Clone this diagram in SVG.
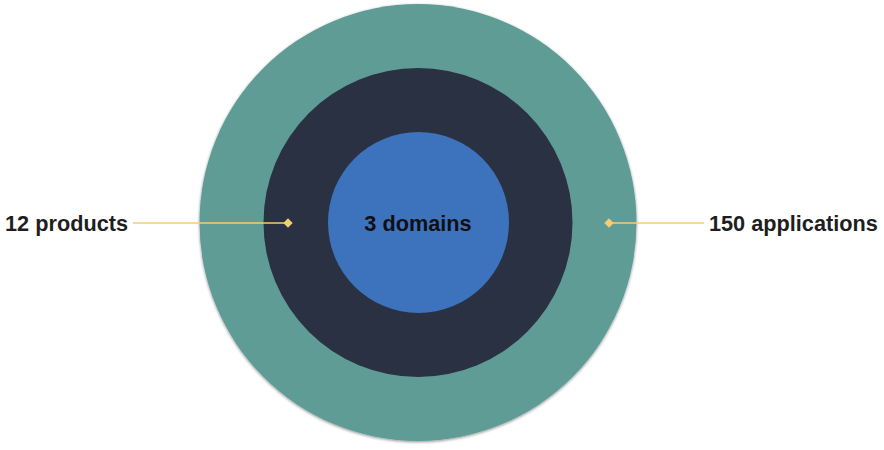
<svg xmlns="http://www.w3.org/2000/svg" width="884" height="450" viewBox="0 0 884 450">
<style>
.lbl{font-family:"Liberation Sans",Arial,Helvetica,sans-serif;font-weight:bold;font-size:21.7px;fill:#1e1e1e}
.conn{stroke:#F2CD78;stroke-width:1.6;fill:none}
.dot{fill:#F2CD78}
</style>
<defs>
<filter id="sh" x="-10%" y="-10%" width="120%" height="120%">
<feGaussianBlur in="SourceAlpha" stdDeviation="1.5"/>
<feOffset dx="0" dy="1" result="b"/>
<feComponentTransfer><feFuncA type="linear" slope="0.45"/></feComponentTransfer>
<feMerge><feMergeNode/><feMergeNode in="SourceGraphic"/></feMerge>
</filter>
</defs>
<rect width="884" height="450" fill="#ffffff"/>
<g id="outer"><circle cx="418" cy="222.5" r="218.5" fill="#5E9C96" filter="url(#sh)"/></g>
<g id="middle"><circle cx="418" cy="222.5" r="154.5" fill="#2A3142"/></g>
<g id="inner"><circle cx="418.5" cy="222.5" r="90.5" fill="#3D73BD"/>
<text class="lbl" x="418" y="231" text-anchor="middle" style="fill:#0f0f14">3 domains</text></g>
<g id="connectors">
<line class="conn" x1="133" y1="223" x2="288" y2="223"/>
<rect class="dot" x="-3.3" y="-3.3" width="6.6" height="6.6" transform="translate(288 223) rotate(45)"/>
<line class="conn" x1="609" y1="223" x2="704" y2="223"/>
<rect class="dot" x="-3.3" y="-3.3" width="6.6" height="6.6" transform="translate(609 223) rotate(45)"/>
</g>
<g id="products"><text class="lbl" x="128" y="231" text-anchor="end">12 products</text></g>
<g id="applications"><text class="lbl" x="709" y="231">150 applications</text></g>
</svg>
